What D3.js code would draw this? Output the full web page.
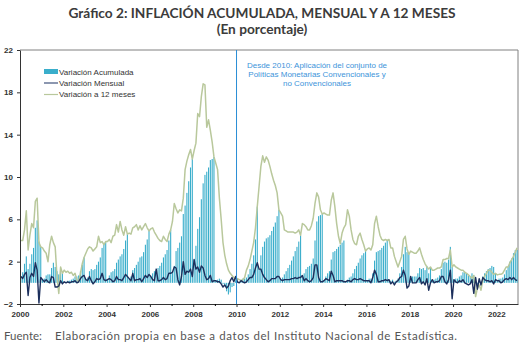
<!DOCTYPE html>
<html>
<head>
<meta charset="utf-8">
<script src="https://cdn.jsdelivr.net/npm/d3@7"></script>
<style>
  body { margin: 0; background: #fff; }
  svg text { font-family: "Liberation Sans", Arial, sans-serif; }
</style>
</head>
<body>
<div class="chart"></div>
<script>
// Inflación Bolivia 2000-2022, datos mensuales (en porcentaje)
var years = d3.range(2000, 2023);
var yTicks = [-2, 2, 6, 10, 14, 18, 22];
var xTicks = d3.range(2000, 2024, 2);

// Variación acumulada en el año
var acumulada = [
  0.6, 1.0, 1.8, 2.5, 1.3, 1.8, 2.7, 3.3, 5.2, 5.9, 3.9, 3.4,
  0.3, 0.4, 0.7, 0.8, 0.8, 1.4, 1.9, 1.5, 1.1, 0.8, 1.0, 0.9,
  0.1, 0.1, 0.2, 0.2, 0.3, 0.4, 0.6, 0.6, 0.7, 1.1, 1.7, 2.4,
  0.3, 0.5, 1.1, 1.3, 1.2, 1.3, 1.7, 2.0, 2.4, 3.3, 3.7, 3.9,
  0.3, 0.7, 1.0, 1.1, 1.3, 1.9, 2.2, 2.5, 2.7, 3.2, 4.0, 4.6,
  0.4, 0.6, 1.2, 1.4, 1.7, 2.0, 2.4, 2.5, 2.9, 3.6, 4.1, 4.9,
  0.6, 0.9, 1.1, 1.2, 1.4, 1.6, 1.9, 2.4, 2.7, 3.1, 4.0, 5.0,
  1.0, 1.6, 3.0, 3.3, 3.8, 4.4, 6.5, 7.3, 8.5, 9.6, 10.9, 11.7,
  2.2, 3.5, 5.1, 6.2, 7.9, 9.4, 10.2, 10.5, 10.9, 11.6, 11.7, 11.9,
  0.2, 0.3, 0.4, 0.3, -0.1, -0.3, -0.8, -1.1, -0.9, -0.4, -0.3, 0.3,
  0.1, 0.1, 0.3, 0.4, 0.4, 0.5, 0.8, 1.3, 1.8, 2.6, 4.1, 7.2,
  1.3, 2.6, 3.4, 3.9, 4.2, 4.3, 4.5, 4.9, 5.3, 5.7, 6.3, 6.9,
  0.3, 0.5, 0.8, 1.1, 1.4, 1.7, 2.1, 2.5, 3.0, 3.4, 3.9, 4.5,
  0.7, 0.9, 1.3, 1.5, 1.6, 1.8, 2.3, 4.0, 5.8, 6.3, 6.4, 6.5,
  0.2, 0.6, 0.9, 1.1, 2.2, 2.9, 3.0, 3.2, 3.4, 3.6, 3.8, 4.0,
  0.1, 0.3, 0.5, 0.6, 0.9, 1.3, 1.6, 1.9, 2.3, 2.6, 2.8, 3.0,
  0.2, 0.4, 0.4, 0.9, 2.1, 2.9, 3.0, 3.1, 3.3, 3.5, 3.8, 4.0,
  0.3, 0.2, 0.3, 0.1, 0.2, 0.4, 0.9, 1.5, 2.7, 3.4, 2.9, 2.7,
  0.6, 0.6, 0.6, 0.6, 0.9, 1.4, 1.3, 1.4, 1.2, 1.6, 0.9, 1.5,
  0.3, 0.3, 0.4, 0.5, 0.7, 1.3, 1.9, 2.0, 1.9, 2.2, 3.4, 1.5,
  0.3, 0.4, 0.4, 0.6, 0.7, 1.0, 1.0, 0.9, 0.7, 0.6, 0.9, 0.7,
  0.5, -0.1, 0.3, 0.1, 0.6, 0.9, 1.1, 1.3, 1.4, 1.6, 1.5, 0.9,
  0.2, 0.4, 0.4, 0.5, 0.8, 1.2, 1.5, 2.0, 2.3, 2.8, 3.1, 3.1
];

// Variación mensual
var mensual = [
  0.6, 0.4, 0.8, 1.0, -1.2, 0.5, 0.9, 0.6, 1.9, 1.2, -1.9, 0.5,
  0.3, 0.1, 0.3, 0.1, 0.0, 0.6, 0.5, -0.4, -0.4, -0.3, 0.2, -0.1,
  0.1, 0.0, 0.1, 0.0, 0.1, 0.1, 0.2, 0.0, 0.1, 0.4, 0.6, 0.7,
  0.3, 0.2, 0.6, 0.2, -0.1, 0.1, 0.4, 0.3, 0.4, 0.9, 0.3, 0.2,
  0.3, 0.4, 0.3, 0.1, 0.2, 0.6, 0.3, 0.3, 0.2, 0.5, 0.8, 0.6,
  0.4, 0.2, 0.9, 0.2, 0.3, 0.3, 0.4, 0.1, 0.4, 0.7, 0.5, 0.8,
  0.6, 0.3, 0.2, 1.3, 0.2, 0.2, 0.3, 0.5, 0.3, 0.4, 0.9, 0.9,
  1.0, 1.5, 1.4, 0.3, -0.2, 0.6, 2.0, 0.8, 1.1, 1.0, 1.3, 0.6,
  2.2, 1.3, 1.5, 1.0, 1.6, 1.4, 0.7, 0.3, 0.4, 0.7, 0.1, 0.2,
  0.2, 0.1, 0.1, -0.1, -0.4, -0.2, -0.5, -0.3, 0.2, 0.5, 0.1, 0.6,
  0.1, 0.0, 0.2, 0.1, 0.0, 0.1, 0.3, 0.5, 0.5, 0.8, 1.4, 1.9,
  1.3, 1.3, 0.8, 0.5, 0.3, 0.1, 0.2, 0.4, 0.4, 0.4, 0.6, 0.6,
  0.3, 0.2, 0.3, 0.3, 0.3, 0.3, 0.4, 0.4, 0.5, 0.4, 0.5, 0.5,
  0.7, 0.2, 0.4, 0.2, 0.1, 0.2, 0.5, 1.7, 1.7, 0.5, 0.1, 0.1,
  0.2, 0.4, 0.3, 0.2, 1.1, 0.7, 0.1, 0.2, 0.2, 0.2, 0.2, 0.1,
  0.1, 0.2, 0.2, 0.1, 0.3, 0.4, 0.3, 0.3, 0.4, 0.3, 0.2, 0.2,
  0.2, 0.2, 0.0, 0.5, 1.2, 0.8, 0.1, 0.1, 0.2, 0.2, 0.3, 0.2,
  0.3, -0.1, 0.1, -0.2, 0.1, 0.2, 0.5, 0.6, 1.2, 0.7, -0.5, -0.3,
  0.6, 0.0, 0.0, 0.0, 0.3, 0.5, -0.1, 0.1, -0.2, 0.4, -0.7, 0.0,
  0.3, 0.0, 0.1, 0.1, 0.2, 0.6, 0.6, 0.1, -0.1, 0.3, 1.2, -1.5,
  0.3, 0.1, 0.0, 0.2, 0.1, 0.3, 0.0, -0.1, -0.2, -0.1, 0.3, -1.0,
  0.5, -0.6, 0.4, -0.2, 0.5, 0.3, 0.2, 0.2, 0.1, 0.2, -0.1, 0.3,
  0.2, 0.2, 0.0, 0.1, 0.3, 0.4, 0.3, 0.5, 0.3, 0.5, 0.3, 0.2
];

// Variación a 12 meses
var doceMeses = [
  4.0, 4.0, 5.0, 6.8, 3.1, 4.5, 5.6, 5.2, 7.7, 8.0, 3.8, 3.4,
  3.3, 3.0, 2.8, 2.0, 3.6, 4.4, 3.8, 3.4, 0.6, -1.0, 1.5, 0.9,
  1.2, 1.0, 1.1, 0.9, 1.0, 0.7, 0.9, 0.3, 0.1, 0.9, 1.8, 2.4,
  2.8, 3.2, 3.4, 3.3, 3.0, 3.2, 3.4, 4.4, 3.8, 3.9, 3.6, 3.9,
  3.9, 4.1, 3.8, 4.4, 4.5, 5.5, 4.8, 5.8, 5.0, 4.5, 5.3, 4.6,
  4.7, 4.6, 5.2, 5.3, 5.5, 5.0, 5.4, 5.0, 5.3, 5.6, 5.2, 4.9,
  5.1, 5.2, 4.8, 4.5, 4.2, 4.0, 3.9, 4.4, 4.1, 3.9, 4.6, 5.0,
  5.8, 7.5, 7.0, 6.6, 6.9, 6.8, 8.0, 10.7, 11.5, 12.1, 12.6, 11.7,
  12.5, 13.2, 16.0, 15.7, 17.6, 18.8, 18.7, 14.7, 15.4, 14.4, 13.3, 11.9,
  11.3, 10.7, 8.0, 6.0, 3.8, 2.6, 1.8, 1.2, 0.9, 0.7, 0.5, 0.3,
  0.4, 0.3, 0.2, 0.3, 0.5, 1.2, 1.6, 2.2, 3.0, 3.8, 5.2, 7.2,
  9.1, 11.0, 12.0, 11.4, 11.9, 11.6, 11.0, 10.3, 9.7, 9.2, 8.5, 6.9,
  6.6, 6.3, 5.0, 4.9, 4.8, 4.8, 4.8, 4.8, 4.7, 4.8, 5.0, 4.5,
  5.6, 5.5, 5.3, 5.0, 5.0, 5.4, 6.1, 7.5, 8.5, 8.1, 6.9, 6.5,
  6.6, 6.5, 6.4, 6.4, 7.8, 8.5, 7.2, 5.6, 4.4, 3.7, 4.7, 5.2,
  5.5, 6.9, 6.3, 5.0, 4.1, 3.7, 3.6, 4.4, 4.7, 4.1, 3.6, 3.0,
  3.2, 3.3, 3.1, 3.6, 5.6, 6.3, 5.3, 4.5, 4.1, 4.0, 4.1, 4.0,
  4.1, 3.3, 3.3, 2.5, 2.0, 1.5, 2.0, 2.5, 4.1, 4.4, 3.2, 2.7,
  3.0, 2.9, 2.8, 2.8, 3.0, 3.3, 2.7, 2.2, 1.8, 1.5, 1.3, 1.5,
  1.2, 1.2, 1.3, 1.4, 1.4, 1.5, 2.2, 2.2, 2.3, 2.3, 3.1, 1.5,
  1.7, 1.5, 1.4, 1.3, 1.2, 1.2, 1.0, 0.9, 0.75, 0.6, 0.45, 0.7,
  -1.3, -0.5, -0.2, -0.7, 0.3, 0.6, 0.9, 1.2, 1.2, 1.0, 0.8, 0.9,
  0.75, 0.8, 0.8, 0.9, 1.2, 1.5, 1.5, 1.9, 2.2, 2.5, 2.9, 3.3
];

var series = [
  { name: "Variación Acumulada", color: "#3aaecb" },
  { name: "Variación Mensual", color: "#1c2f5c" },
  { name: "Variación a 12 meses", color: "#b9c89c" }
];

var W = 525, H = 346;
var mLeft = 20, mRight = 518, mTop = 50, mBottom = 304;

// cada mes se ubica al centro de su intervalo
var months = d3.range(acumulada.length).map(function(i) {
  return years[0] + Math.floor(i / 12) + (i % 12 + 0.5) / 12;
});

var x = d3.scaleLinear().domain([2000, 2023]).range([mLeft, mRight]);
var y = d3.scaleLinear().domain([-2, 22]).range([mBottom, mTop]);

var svg = d3.select(".chart").append("svg")
  .attr("width", W)
  .attr("height", H);

// títulos
svg.append("text")
  .attr("x", 262).attr("y", 18)
  .attr("text-anchor", "middle")
  .style("font-family", "Lato, sans-serif")
  .style("font-weight", "bold")
  .style("font-size", "13.7px")
  .attr("fill", "#3b3b3b")
  .text("Gráfico 2: INFLACIÓN ACUMULADA, MENSUAL Y A 12 MESES");
svg.append("text")
  .attr("x", 262).attr("y", 34)
  .attr("text-anchor", "middle")
  .style("font-family", "Lato, sans-serif")
  .style("font-weight", "bold")
  .style("font-size", "13.7px")
  .attr("fill", "#3b3b3b")
  .text("(En porcentaje)");

// marco superior y derecho
svg.append("path")
  .attr("d", "M" + mLeft + "," + mTop + "H" + mRight + "V" + mBottom)
  .attr("fill", "none")
  .attr("stroke", "#808080")
  .attr("stroke-width", 1);

// barras de variación acumulada
svg.append("g").selectAll("rect")
  .data(acumulada)
  .join("rect")
  .attr("x", function(d, i) { return x(months[i]) - 0.55; })
  .attr("width", 1.1)
  .attr("y", function(d) { return Math.min(y(d), y(0)); })
  .attr("height", function(d) { return Math.abs(y(d) - y(0)); })
  .attr("fill", series[0].color);

var line = function(vals) {
  return d3.line()
    .x(function(d, i) { return x(months[i]); })
    .y(function(d) { return y(d); })(vals);
};

svg.append("path")
  .attr("d", line(doceMeses))
  .attr("fill", "none")
  .attr("stroke", series[2].color)
  .attr("stroke-width", 1.5)
  .attr("stroke-linejoin", "round");

svg.append("path")
  .attr("d", line(mensual))
  .attr("fill", "none")
  .attr("stroke", series[1].color)
  .attr("stroke-width", 1.4)
  .attr("stroke-linejoin", "round");

// línea vertical 2010
svg.append("line")
  .attr("x1", x(2010)).attr("x2", x(2010))
  .attr("y1", mTop).attr("y2", mBottom)
  .attr("stroke", "#2a8ed6")
  .attr("stroke-width", 1);

var nota = ["Desde 2010: Aplicación del conjunto de",
            "Políticas Monetarias Convencionales y",
            "no Convencionales"];
svg.append("g").selectAll("text")
  .data(nota)
  .join("text")
  .attr("x", 317)
  .attr("y", function(d, i) { return 68 + i * 9; })
  .attr("text-anchor", "middle")
  .attr("fill", "#3d94da")
  .style("font-size", "8px")
  .text(function(d) { return d; });

// ejes
var yAxis = svg.append("g")
  .attr("transform", "translate(" + mLeft + ",0)")
  .call(d3.axisLeft(y).tickValues(yTicks).tickSize(3).tickSizeOuter(0));
var xAxis = svg.append("g")
  .attr("transform", "translate(0," + mBottom + ")")
  .call(d3.axisBottom(x).tickValues(xTicks).tickFormat(d3.format("d")).tickSize(3).tickSizeOuter(0));
svg.append("g")
  .attr("transform", "translate(0," + mBottom + ")")
  .call(d3.axisBottom(x).tickValues(d3.range(2001, 2023, 2)).tickFormat("").tickSize(2).tickSizeOuter(0))
  .select(".domain").remove();

[yAxis, xAxis].forEach(function(g) {
  g.select(".domain").attr("stroke", "#333");
  g.selectAll(".tick line").attr("stroke", "#333");
  g.selectAll(".tick text")
    .attr("fill", "#333")
    .style("font-size", "8px")
    .style("font-weight", "bold");
});
yAxis.selectAll(".tick text").attr("x", -7);
xAxis.selectAll(".tick text").attr("y", 7);

// leyenda
var lg = svg.append("g").attr("transform", "translate(44,72)");
lg.append("rect").attr("x", 0).attr("y", -3).attr("width", 14).attr("height", 5).attr("fill", series[0].color);
lg.append("line").attr("x1", 0).attr("x2", 14).attr("y1", 11).attr("y2", 11)
  .attr("stroke", "#4e5f85").attr("stroke-width", 1.3);
lg.append("line").attr("x1", 0).attr("x2", 14).attr("y1", 22.5).attr("y2", 22.5)
  .attr("stroke", series[2].color).attr("stroke-width", 1.2);
lg.selectAll("text")
  .data(series)
  .join("text")
  .attr("x", 15)
  .attr("y", function(d, i) { return 2.8 + i * 11.3; })
  .attr("fill", "#333")
  .style("font-size", "8px")
  .text(function(d) { return d.name; });

// fuente
svg.append("text")
  .attr("x", 4).attr("y", 340)
  .style("font-family", "Lato, sans-serif")
  .style("font-size", "11.5px")
  .attr("fill", "#555")
  .text("Fuente:");
svg.append("text")
  .attr("x", 55).attr("y", 340)
  .attr("textLength", 402)
  .attr("lengthAdjust", "spacing")
  .style("font-family", "Lato, sans-serif")
  .style("font-size", "11.5px")
  .attr("fill", "#555")
  .text("Elaboración propia en base a datos del Instituto Nacional de Estadística.");
</script>
</body>
</html>
